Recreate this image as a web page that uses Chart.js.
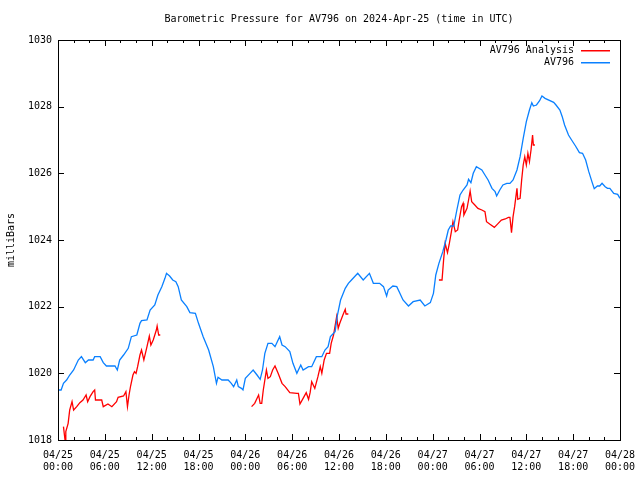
<!DOCTYPE html>
<html>
<head>
<meta charset="utf-8">
<script src="https://cdn.jsdelivr.net/npm/chart.js@4.4.1/dist/chart.umd.min.js"></script>
<style>
  body { margin: 0; background: #fff; }
  #wrap { width: 640px; height: 480px; }
</style>
</head>
<body>
<div id="wrap"><canvas id="chart" width="640" height="480"></canvas></div>
<script>
// hours since 04/25 00:00 UTC
var stationHours = [0.0, 0.4, 0.7, 1.1, 1.5, 2.0, 2.6, 3.0, 3.5, 3.9, 4.5, 4.7, 5.4, 5.8, 6.2, 6.9, 7.3, 7.6, 7.9, 8.4,
  9.0, 9.4, 10.1, 10.5, 10.7, 11.4, 11.8, 12.4, 12.8, 13.3, 13.7, 13.9, 14.3, 14.7, 15.1, 15.4, 15.8, 16.5, 16.9, 17.6,
  18.0, 18.6, 19.3, 19.9, 20.3, 20.5, 21.0, 21.8, 22.2, 22.5, 22.9, 23.1, 23.5, 23.7, 24.0, 24.6, 25.0, 25.5, 25.9, 26.2,
  26.5, 26.9, 27.4, 27.8, 28.4, 28.7, 29.1, 29.7, 30.1, 30.6, 31.1, 31.4, 32.1, 32.5, 33.1, 33.8, 34.2, 34.6, 34.9, 35.5,
  35.8, 36.2, 36.8, 37.2, 37.6, 38.4, 39.1, 39.9, 40.4, 41.2, 41.7, 42.1, 42.3, 42.9, 43.4, 43.8, 44.2, 44.9, 45.5, 46.4,
  47.0, 47.7, 48.1, 48.4, 48.8, 49.3, 49.7, 50.0, 50.3, 50.7, 51.1, 51.5, 51.9, 52.4, 52.6, 52.9, 53.2, 53.6, 54.3, 54.7,
  55.1, 55.6, 56.0, 56.2, 56.6, 57.0, 57.5, 57.9, 58.3, 58.8, 59.2, 59.6, 60.0, 60.4, 60.7, 60.9, 61.3, 61.7, 62.0, 62.4,
  63.5, 63.8, 64.3, 64.6, 64.9, 65.4, 65.8, 66.3, 66.8, 67.2, 67.6, 68.0, 68.4, 68.7, 69.1, 69.4, 69.7, 70.1, 70.4, 70.7,
  71.2, 71.7, 72.0];
var stationPressure = [1019.5, 1019.5, 1019.7, 1019.8, 1019.95, 1020.1, 1020.4, 1020.5, 1020.32, 1020.4, 1020.4, 1020.5, 1020.5, 1020.32, 1020.22, 1020.22, 1020.22, 1020.1, 1020.4, 1020.55,
  1020.75, 1021.1, 1021.15, 1021.5, 1021.58, 1021.6, 1021.9, 1022.05, 1022.35, 1022.6, 1022.85, 1023.0, 1022.92, 1022.8, 1022.75, 1022.6, 1022.2, 1022.0, 1021.82, 1021.8,
  1021.5, 1021.1, 1020.7, 1020.2, 1019.7, 1019.88, 1019.8, 1019.8, 1019.7, 1019.6, 1019.8, 1019.6, 1019.55, 1019.5, 1019.85, 1020.0, 1020.1, 1019.95, 1019.82, 1020.1,
  1020.6, 1020.9, 1020.9, 1020.8, 1021.1, 1020.85, 1020.8, 1020.65, 1020.3, 1020.0, 1020.25, 1020.1, 1020.2, 1020.2, 1020.5, 1020.5, 1020.7, 1020.8, 1021.1, 1021.25,
  1021.75, 1022.2, 1022.55, 1022.7, 1022.8, 1023.0, 1022.8, 1023.0, 1022.7, 1022.7, 1022.6, 1022.32, 1022.5, 1022.62, 1022.6, 1022.4, 1022.2, 1022.02, 1022.15, 1022.2,
  1022.02, 1022.12, 1022.4, 1022.95, 1023.3, 1023.65, 1024.0, 1024.3, 1024.42, 1024.42, 1024.9, 1025.35, 1025.5, 1025.65, 1025.82, 1025.72, 1026.0, 1026.2, 1026.1, 1025.95,
  1025.8, 1025.55, 1025.45, 1025.32, 1025.5, 1025.65, 1025.7, 1025.7, 1025.8, 1026.1, 1026.5, 1027.05, 1027.55, 1027.9, 1028.12, 1028.02, 1028.05, 1028.18, 1028.32, 1028.25,
  1028.13, 1028.05, 1027.9, 1027.7, 1027.45, 1027.15, 1027.0, 1026.82, 1026.62, 1026.6, 1026.4, 1026.05, 1025.75, 1025.54, 1025.62, 1025.62, 1025.7, 1025.6, 1025.55, 1025.55,
  1025.4, 1025.37, 1025.25];

// analysis series, null = gap
var analysisHours = [0.7, 0.8, 0.9, 1.0, 1.3, 1.5, 1.8, 2.0, 2.4, 2.8, 3.2, 3.6, 3.8, 4.1, 4.5, 4.7, 4.8, 5.6, 5.8, 6.4,
  6.9, 7.5, 7.7, 8.4, 8.7, 8.9, 9.1, 9.3, 9.6, 9.8, 10.0, 10.2, 10.5, 10.7, 11.0, 11.4, 11.7, 11.9, 12.2, 12.6,
  12.7, 12.9, 13.1, 18.0,
  24.8, 25.2, 25.7, 25.9, 26.1, 26.3, 26.5, 26.7, 26.9, 27.2, 27.5, 27.8, 28.2, 28.7, 29.1, 29.7, 30.6, 30.8, 31.0, 31.4,
  31.8, 32.1, 32.3, 32.5, 32.9, 33.3, 33.6, 33.8, 34.1, 34.4, 34.8, 35.0, 35.3, 35.7, 35.9, 36.1, 36.5, 36.8, 36.9, 37.2, 42.0,
  48.8, 49.2, 49.4, 49.6, 49.9, 50.1, 50.4, 50.6, 50.9, 51.2, 51.4, 51.7, 51.9, 52.0, 52.4, 52.6, 52.8, 53.0, 53.4, 53.8,
  54.3, 54.7, 54.9, 55.3, 55.9, 56.4, 56.8, 57.3, 57.7, 57.9, 58.1, 58.3, 58.5, 58.8, 58.9, 59.2, 59.4, 59.6, 59.8, 60.0,
  60.2, 60.4, 60.6, 60.8, 60.9, 61.1];
var analysisPressure = [1018.4, 1018.2, 1018.0, 1018.25, 1018.5, 1018.9, 1019.15, 1018.9, 1019.0, 1019.12, 1019.2, 1019.35, 1019.15, 1019.3, 1019.45, 1019.5, 1019.2, 1019.2, 1019.0, 1019.08,
  1019.0, 1019.15, 1019.28, 1019.32, 1019.45, 1019.0, 1019.35, 1019.62, 1019.95, 1020.05, 1020.0, 1020.2, 1020.55, 1020.7, 1020.4, 1020.8, 1021.12, 1020.85, 1021.0, 1021.3,
  1021.42, 1021.15, 1021.15, null,
  1019.0, 1019.1, 1019.35, 1019.1, 1019.1, 1019.5, 1019.8, 1020.1, 1019.85, 1019.9, 1020.1, 1020.22, 1020.0, 1019.7, 1019.6, 1019.42, 1019.4, 1019.4, 1019.08, 1019.25,
  1019.42, 1019.22, 1019.42, 1019.75, 1019.55, 1019.9, 1020.2, 1020.0, 1020.4, 1020.6, 1020.6, 1020.9, 1021.15, 1021.7, 1021.35, 1021.5, 1021.75, 1021.92, 1021.78, 1021.78, null,
  1022.8, 1022.8, 1023.4, 1023.9, 1023.62, 1023.85, 1024.25, 1024.55, 1024.25, 1024.3, 1024.6, 1025.0, 1025.1, 1024.75, 1024.95, 1025.2, 1025.47, 1025.15, 1025.05, 1024.95,
  1024.9, 1024.85, 1024.55, 1024.48, 1024.38, 1024.5, 1024.6, 1024.63, 1024.68, 1024.68, 1024.22, 1024.7, 1025.0, 1025.55, 1025.22, 1025.25, 1025.8, 1026.25, 1026.5, 1026.25,
  1026.6, 1026.35, 1026.7, 1027.15, 1026.85, 1026.85];

var xTickLabels = [['04/25', '00:00'], ['04/25', '06:00'], ['04/25', '12:00'], ['04/25', '18:00'],
  ['04/26', '00:00'], ['04/26', '06:00'], ['04/26', '12:00'], ['04/26', '18:00'],
  ['04/27', '00:00'], ['04/27', '06:00'], ['04/27', '12:00'], ['04/27', '18:00'], ['04/28', '00:00']];
var yTicks = [1018, 1020, 1022, 1024, 1026, 1028, 1030];

var seriesNames = ['AV796 Analysis', 'AV796'];
var seriesColors = ['#ff0000', '#0a80ff'];

function toPoints(xs, ys) {
  return xs.map(function (x, i) { return { x: x, y: ys[i] }; });
}

var FONT = '10px "DejaVu Sans Mono", monospace';

var gnuFrame = {
  id: 'gnuFrame',
  afterDraw: function (chart) {
    var ctx = chart.ctx;
    var a = chart.chartArea;
    var xs = chart.scales.x;
    var ys = chart.scales.y;
    ctx.save();
    ctx.strokeStyle = '#000';
    ctx.lineWidth = 1;
    ctx.beginPath();
    // ticks point inward, on all four sides
    for (var h = 0; h <= 72; h += 2) {
      var px = Math.round(xs.getPixelForValue(h)) + 0.5;
      var len = (h % 6 === 0) ? 6 : 3;
      ctx.moveTo(px, a.bottom);
      ctx.lineTo(px, a.bottom - len);
      ctx.moveTo(px, a.top);
      ctx.lineTo(px, a.top + len);
    }
    yTicks.forEach(function (v) {
      var py = Math.round(ys.getPixelForValue(v)) + 0.5;
      ctx.moveTo(a.left, py);
      ctx.lineTo(a.left + 6, py);
      ctx.moveTo(a.right, py);
      ctx.lineTo(a.right - 6, py);
    });
    ctx.stroke();
    ctx.strokeRect(Math.round(a.left) + 0.5, Math.round(a.top) + 0.5,
      Math.round(a.right - a.left), Math.round(a.bottom - a.top));

    ctx.fillStyle = '#000';
    ctx.font = FONT;
    ctx.textBaseline = 'middle';
    ctx.textAlign = 'center';
    ctx.fillText('Barometric Pressure for AV796 on 2024-Apr-25 (time in UTC)', (a.left + a.right) / 2, 19);

    ctx.save();
    ctx.translate(11, (a.top + a.bottom) / 2);
    ctx.rotate(-Math.PI / 2);
    ctx.fillText('milliBars', 0, 0);
    ctx.restore();

    // legend
    ctx.textAlign = 'right';
    for (var i = 0; i < seriesNames.length; i++) {
      var ly = 50 + i * 12;
      ctx.fillStyle = '#000';
      ctx.fillText(seriesNames[i], 574, ly);
      ctx.fillStyle = seriesColors[i];
      ctx.fillRect(581, ly, 29, 1.5);
    }
    ctx.restore();
  }
};

new Chart(document.getElementById('chart'), {
  type: 'line',
  plugins: [gnuFrame],
  data: {
    datasets: [
      {
        label: seriesNames[1],
        data: toPoints(stationHours, stationPressure),
        borderColor: seriesColors[1],
        borderWidth: 1.3,
        pointRadius: 0,
        tension: 0,
        fill: false
      },
      {
        label: seriesNames[0],
        data: toPoints(analysisHours, analysisPressure),
        borderColor: seriesColors[0],
        borderWidth: 1.3,
        pointRadius: 0,
        tension: 0,
        spanGaps: false,
        fill: false
      }
    ]
  },
  options: {
    responsive: false,
    animation: false,
    layout: { padding: { left: 0, right: 20, top: 40, bottom: 0 } },
    plugins: {
      legend: { display: false },
      title: { display: false },
      tooltip: { enabled: false }
    },
    scales: {
      x: {
        type: 'linear',
        min: 0,
        max: 72,
        grid: { display: false, drawTicks: false },
        border: { display: false },
        ticks: {
          stepSize: 6,
          autoSkip: false,
          maxRotation: 0,
          padding: 9,
          color: '#000',
          font: { family: '"DejaVu Sans Mono", monospace', size: 10 },
          callback: function (value) { return xTickLabels[Math.round(value / 6)]; }
        },
        afterFit: function (scale) {
          scale.height = 40;
          scale.paddingLeft = 0;
          scale.paddingRight = 0;
        }
      },
      y: {
        min: 1018,
        max: 1030,
        grid: { display: false, drawTicks: false },
        border: { display: false },
        ticks: {
          stepSize: 2,
          padding: 6,
          color: '#000',
          font: { family: '"DejaVu Sans Mono", monospace', size: 10 },
          callback: function (value) { return String(value); }
        },
        afterFit: function (scale) {
          scale.width = 58;
          scale.paddingTop = 0;
          scale.paddingBottom = 0;
        }
      }
    }
  }
});
</script>
</body>
</html>
